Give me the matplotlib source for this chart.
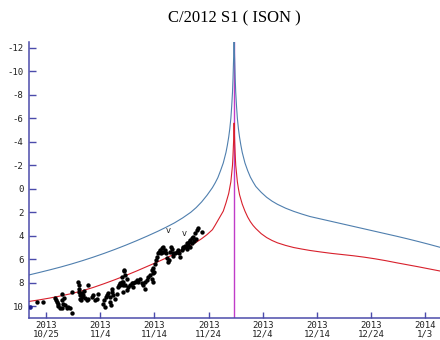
import matplotlib
matplotlib.use("Agg")
import matplotlib.pyplot as plt
import matplotlib.dates as mdates
import numpy as np

plt.rcParams["axes.unicode_minus"] = False

# perihelion date and model light curves (days from perihelion, magnitude)
PERIHELION = "2013-11-28T17:00"
T_OFF = [-38, -36, -34, -32, -30, -28, -26, -24, -22, -20,
         -18, -16, -14, -12.5, -11, -9.5, -8, -7, -6, -5,
         -4, -3.5, -3, -2.5, -2, -1.75, -1.5, -1.25, -1, -0.8,
         -0.6, -0.45, -0.3, -0.2, -0.1,
         0,
         0.1, 0.2, 0.3, 0.45, 0.6, 0.8, 1, 1.25, 1.5, 1.75,
         2, 2.5, 3, 3.5, 4, 5, 6, 7, 8, 9.5,
         11, 12.5, 14, 16, 18, 20, 22, 24, 26, 28,
         30, 32, 34, 36, 38]
BLUE_MAG = [7.35, 7.13, 6.9, 6.66, 6.4, 6.12, 5.82, 5.5, 5.16, 4.8,
            4.42, 4.02, 3.6, 3.26, 2.9, 2.48, 2.0, 1.6, 1.12, 0.55,
            -0.1, -0.5, -0.95, -1.55, -2.2, -2.65, -3.1, -3.7, -4.4, -5.1,
            -6.0, -7.0, -8.2, -9.4, -11.0,
            -12.5,
            -11.0, -9.4, -8.2, -7.0, -6.0, -5.1, -4.4, -3.7, -3.1, -2.65,
            -2.2, -1.55, -1.0, -0.58, -0.2, 0.3, 0.72, 1.05, 1.32, 1.65,
            1.92, 2.15, 2.36, 2.57, 2.78, 2.99, 3.2, 3.41, 3.62, 3.83,
            4.04, 4.26, 4.49, 4.73, 4.98]
RED_MAG = [9.6, 9.46, 9.3, 9.12, 8.92, 8.68, 8.4, 8.08, 7.74, 7.38,
           7.0, 6.6, 6.2, 5.88, 5.55, 5.2, 4.82, 4.55, 4.25, 3.9,
           3.48, 3.1, 2.7, 2.3, 1.9, 1.55, 1.2, 0.8, 0.4, -0.1,
           -0.6, -1.3, -2.0, -2.9, -4.0,
           -5.6,
           -4.0, -2.9, -2.0, -1.3, -0.6, 0.0, 0.5, 0.9, 1.3, 1.6,
           1.9, 2.4, 2.8, 3.12, 3.38, 3.82, 4.15, 4.4, 4.6, 4.82,
           5.0, 5.13, 5.25, 5.38, 5.5, 5.6, 5.7, 5.82, 5.96, 6.12,
           6.3, 6.47, 6.64, 6.82, 7.0]

# observations (days since 2013-10-25 00:00, magnitude)
OBS_BASE = "2013-10-25T00:00"
OBS_DAY = [-1.72, -0.49, 1.66, 1.78, 1.97, 2.28, 2.28, 2.58, 2.89, 3.20, 3.51, 3.81, 4.12, 4.43, 3.01, 3.38,
           4.74, 4.74, 2.89, 5.97, 6.09, 6.09, 6.15, 6.27, 6.27, 6.46, 6.58, 6.89, 7.20, 7.50, 7.81, 6.70,
           7.07, 7.81, 8.43, 8.73, 9.04, 9.35, 9.66, 10.58, 10.76, 10.89, 11.01, 11.19, 11.50, 11.81, 11.81,
           11.99, 12.12, 12.24, 12.42, 12.73, 13.04, 13.34, 13.53, 13.65, 13.96, 14.27, 14.58, 14.45, 14.88,
           15.19, 15.81, 16.11,
           13.96, 14.27, 14.57, 14.88, 14.27, 13.65, 14.39, 15.50, 16.11, 16.42, 16.73, 17.03, 17.34, 17.65,
           17.96, 18.26, 18.57, 18.26, 18.88, 19.19, 19.49, 19.80, 19.80, 19.49, 19.68, 19.92,
           20.11, 20.29, 20.54, 20.72, 20.91, 21.03, 21.15, 21.34, 21.52, 21.65, 21.95, 22.14, 22.26, 22.57,
           22.75, 22.88, 23.00, 23.18, 23.37, 23.49, 23.80, 24.11, 24.41, 24.60, 24.72, 25.03, 25.21, 25.34,
           25.64, 25.83, 25.95, 26.26, 26.44, 26.57, 26.87, 27.18, 27.49, 27.80, 28.10, 28.72, 25.95, 26.57,
           26.87, 27.30, 27.67]
OBS_MAG = [9.63, 9.63, 9.26, 9.43, 9.63, 9.77, 9.99, 10.11, 10.19, 9.77, 9.91, 10.11, 10.05, 10.19, 9.48, 9.28,
           10.56, 8.77, 8.92, 7.92, 8.20, 8.49, 8.77, 9.06, 9.34, 9.48, 9.20, 9.06, 9.26, 9.48, 9.34, 8.86,
           8.69, 8.20, 9.20, 9.06, 9.48, 9.34, 8.97, 9.77, 9.48, 10.05, 9.20, 9.06, 8.86, 9.20, 9.63,
           9.91, 8.77, 8.49, 9.06, 9.34, 8.92, 8.35, 8.20, 8.06, 7.92, 8.20, 7.35, 6.93, 8.63,
           8.35, 8.06, 8.35,
           7.49, 7.92, 8.20, 7.64, 8.77, 8.20, 7.01, 8.20, 8.06, 7.92, 7.78, 7.92, 7.64, 8.06,
           8.20, 7.92, 7.78, 8.49, 7.49, 7.35, 7.64, 7.21, 7.92, 6.93, 6.78, 7.07,
           6.36, 6.07, 5.79, 5.50, 5.36, 5.22, 5.50, 5.08, 4.94, 5.36, 5.22, 5.50, 5.93, 6.22,
           6.07, 5.36, 4.94, 5.16, 5.50, 5.73, 5.50, 5.36, 5.22, 5.50, 5.79, 5.22, 5.08, 4.94,
           4.88, 4.99, 4.65, 4.79, 4.51, 4.37, 4.23, 4.08, 3.80, 3.52, 3.37, 3.66, 5.16, 4.99,
           4.65, 4.43, 4.31]
BLUE_OBS_DAY = [-2.95]
BLUE_OBS_MAG = [10.05]
V_DAY = [22.57, 25.52]
V_MAG = [3.95, 4.15]

TICK_DATES = ["2013-10-25", "2013-11-04", "2013-11-14", "2013-11-24",
              "2013-12-04", "2013-12-14", "2013-12-24", "2014-01-03"]
TICK_LABELS = ["2013\n10/25", "2013\n11/4", "2013\n11/14", "2013\n11/24",
               "2013\n12/4", "2013\n12/14", "2013\n12/24", "2014\n1/3"]
YTICKS = [-12, -10, -8, -6, -4, -2, 0, 2, 4, 6, 8, 10]

peri = mdates.date2num(np.datetime64(PERIHELION))
base = mdates.date2num(np.datetime64(OBS_BASE))
t_curve = peri + np.array(T_OFF)

fig = plt.figure(figsize=(4.4, 3.4), dpi=100)
ax = fig.add_axes([29 / 440, 22 / 340, 411 / 440, 276 / 340])

ax.axvline(peri, color="#c03cc8", lw=1.0, zorder=1)
ax.plot(t_curve, BLUE_MAG, color="#4f7fae", lw=0.8, zorder=2)
ax.plot(t_curve, RED_MAG, color="#d8202c", lw=0.8, zorder=2)
ax.scatter(base + np.array(OBS_DAY), OBS_MAG, s=10, color="black", lw=0, zorder=3)
ax.scatter(base + np.array(BLUE_OBS_DAY), BLUE_OBS_MAG, s=11, color="#1e1e8c", lw=0, zorder=3)
for d, m in zip(V_DAY, V_MAG):
    ax.text(base + d, m, "v", fontsize=6, ha="center", va="bottom", color="#222222")

ax.set_xlim(base - 3.14, base + 72.7)
ax.set_ylim(11, -12.5)
ax.set_xticks([mdates.date2num(np.datetime64(d)) for d in TICK_DATES])
ax.set_xticklabels(TICK_LABELS, family="DejaVu Sans Mono", fontsize=6.5, linespacing=1.0)
ax.set_yticks(YTICKS)
ax.set_yticklabels([str(v) for v in YTICKS], family="DejaVu Sans Mono", fontsize=6.5)

spine_c = "#4b4bab"
for s in ["top", "right"]:
    ax.spines[s].set_visible(False)
for s in ["left", "bottom"]:
    ax.spines[s].set_color(spine_c)
    ax.spines[s].set_linewidth(1.1)
ax.tick_params(axis="both", direction="in", color=spine_c, width=1.0, labelcolor="#222222")
ax.tick_params(axis="y", length=5, pad=4)
ax.tick_params(axis="x", length=4, pad=2)

fig.text(234.5 / 440, 1 - 18 / 340, "C/2012 S1 ( ISON )", family="Liberation Serif",
         fontsize=12, ha="center", va="center")

fig.savefig("out.png", dpi=100)
